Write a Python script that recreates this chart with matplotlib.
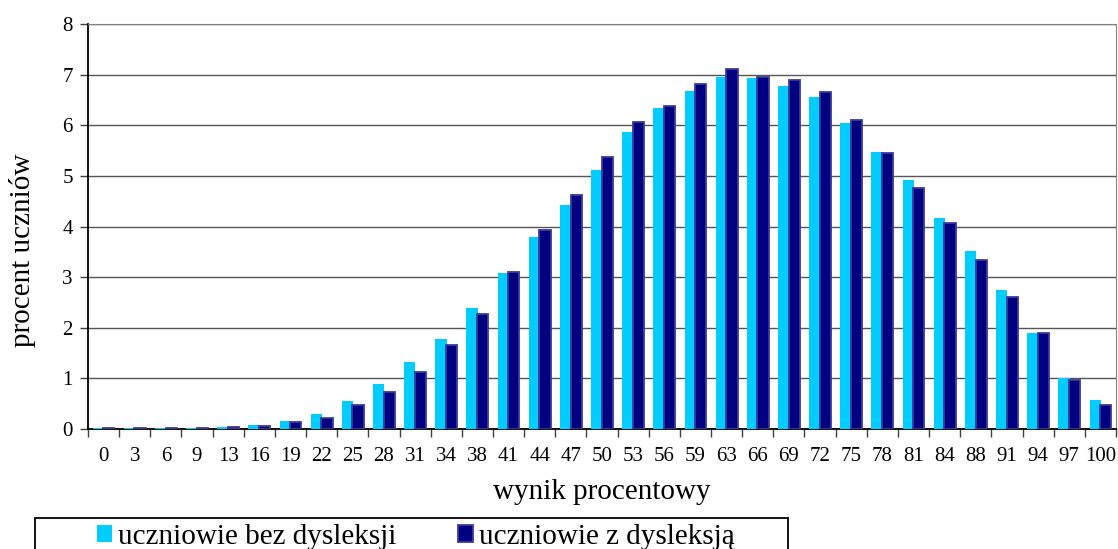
import matplotlib.pyplot as plt
import numpy as np
from matplotlib.patches import Rectangle

plt.rcParams['font.family'] = ['Liberation Serif', 'DejaVu Serif']

# wynik procentowy (kategorie na osi X)
wyniki = ["0", "3", "6", "9", "13", "16", "19", "22", "25", "28", "31", "34", "38",
          "41", "44", "47", "50", "53", "56", "59", "63", "66", "69", "72", "75",
          "78", "81", "84", "88", "91", "94", "97", "100"]

# procent uczniów - bez dysleksji
bez_dysleksji = [0.02, 0.02, 0.02, 0.02, 0.04, 0.08, 0.16, 0.30, 0.55, 0.89, 1.33,
                 1.78, 2.40, 3.09, 3.80, 4.43, 5.11, 5.86, 6.34, 6.68, 6.95, 6.94,
                 6.78, 6.55, 6.05, 5.48, 4.91, 4.16, 3.51, 2.74, 1.89, 1.00, 0.58]

# procent uczniów - z dysleksją
z_dysleksja = [0.02, 0.01, 0.02, 0.02, 0.03, 0.05, 0.13, 0.21, 0.47, 0.74, 1.13,
               1.65, 2.28, 3.11, 3.93, 4.63, 5.38, 6.07, 6.38, 6.82, 7.11, 6.95,
               6.89, 6.65, 6.10, 5.45, 4.76, 4.07, 3.34, 2.60, 1.89, 0.97, 0.47]

jasny = '#00CCFF'
ciemny = '#000080'

fig = plt.figure(figsize=(11.18, 5.49), dpi=100)
ax = fig.add_axes([88 / 1118, 1 - 429 / 549, (1116 - 88) / 1118, (429 - 24) / 549])

x = np.arange(len(wyniki))
w = 0.36
ax.bar(x - 0.17, bez_dysleksji, w, color=jasny, zorder=3, label='uczniowie bez dysleksji')
ax.bar(x + 0.17, z_dysleksja, w, color=ciemny, edgecolor='#3a3a9c', linewidth=1.3,
       zorder=4, label='uczniowie z dysleksją')

ax.set_xlim(-0.5, len(wyniki) - 0.5)
ax.set_ylim(0, 8)
ax.set_yticks(range(0, 9))
ax.grid(axis='y', color='#555555', linewidth=1, zorder=0)

# etykiety pod środkiem kategorii, kreski na granicach
ax.set_xticks(x)
ax.set_xticklabels(wyniki, fontsize=15)
ax.set_xticks(np.arange(-0.5, len(wyniki)), minor=True)
ax.tick_params(axis='x', which='major', length=0, pad=13)
ax.tick_params(axis='x', which='minor', length=6, width=1, color='#404040')
ax.tick_params(axis='y', length=6, width=1, labelsize=15, pad=5, color='#404040')

for s in ['top', 'right']:
    ax.spines[s].set_color('#808080')
ax.spines['left'].set_linewidth(1.3)
ax.spines['bottom'].set_linewidth(1.3)

ax.set_xlabel('wynik procentowy', fontsize=21, labelpad=9)
ax.set_ylabel('procent uczniów', fontsize=21)
ax.yaxis.set_label_coords(-0.051, 0.44)

# legenda w ramce u dołu
fig.legend(loc='center left', bbox_to_anchor=(97 / 1118, 1 - 537 / 549), ncol=2,
           frameon=False, fontsize=21, handlelength=0.52, handleheight=0.5,
           handletextpad=0.2, columnspacing=2.1, borderpad=0, borderaxespad=0)
fig.patches.append(Rectangle((35 / 1118, -0.05), 753 / 1118, (549 - 517.5) / 549 + 0.05,
                             transform=fig.transFigure, fill=False, edgecolor='black',
                             linewidth=1.3))

fig.savefig('out.png', dpi=100)
